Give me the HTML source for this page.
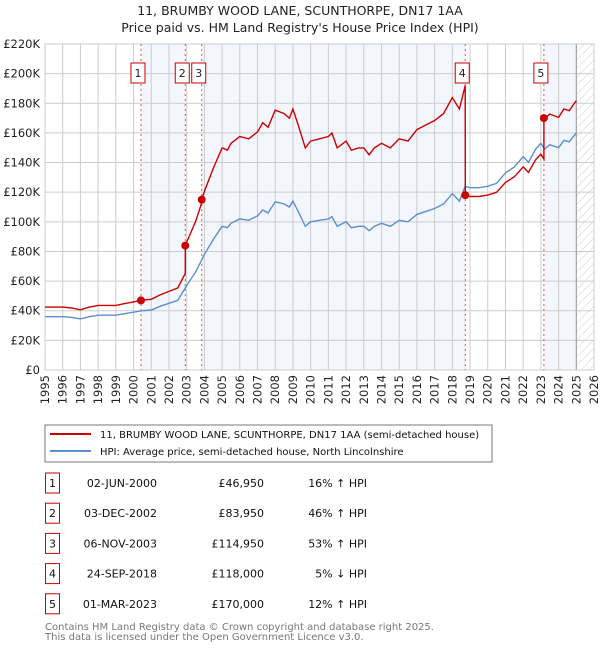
<!DOCTYPE html>
<html><head><meta charset="utf-8"><style>
body{margin:0;background:#fff;font-family:"Liberation Sans","DejaVu Sans",sans-serif;}
svg text{font-family:"DejaVu Sans","Liberation Sans",sans-serif;}
</style></head><body>
<svg id="c" width="600" height="650" viewBox="0 0 600 650" xmlns="http://www.w3.org/2000/svg">
<defs><pattern id="hatch" width="6" height="6" patternUnits="userSpaceOnUse" patternTransform="rotate(45)"><line x1="0" y1="0" x2="0" y2="6" stroke="#ccc" stroke-width="1"/></pattern></defs>
<text x="300" y="15" text-anchor="middle" font-size="12.5" fill="#222">11, BRUMBY WOOD LANE, SCUNTHORPE, DN17 1AA</text>
<text x="300" y="32" text-anchor="middle" font-size="12.5" fill="#222">Price paid vs. HM Land Registry's House Price Index (HPI)</text>
<g id="plot"></g>
<rect x="45" y="425" width="447" height="37" fill="#fff" stroke="#777"/>
<line x1="50" y1="434" x2="91" y2="434" stroke="#cc0000" stroke-width="2"/>
<text x="100" y="438" font-size="10" fill="#111">11, BRUMBY WOOD LANE, SCUNTHORPE, DN17 1AA (semi-detached house)</text>
<line x1="50" y1="451" x2="91" y2="451" stroke="#5b8fd0" stroke-width="2"/>
<text x="100" y="455" font-size="10" fill="#111">HPI: Average price, semi-detached house, North Lincolnshire</text>
<g id="table"></g>
<text x="45" y="630" font-size="10" fill="#777">Contains HM Land Registry data © Crown copyright and database right 2025.</text>
<text x="45" y="640" font-size="10" fill="#777">This data is licensed under the Open Government Licence v3.0.</text>
</svg>
<script>
const hpiYears=[1995,1996,1996.5,1997,1997.5,1998,1999,1999.5,2000,2000.5,2001,2001.5,2002,2002.5,2003,2003.5,2004,2004.5,2005,2005.3,2005.5,2006,2006.5,2007,2007.3,2007.6,2008,2008.5,2008.8,2009.0,2009.3,2009.7,2010,2010.5,2011,2011.2,2011.5,2012,2012.3,2012.7,2013,2013.3,2013.6,2014,2014.5,2015,2015.5,2016,2016.5,2017,2017.5,2018,2018.4,2018.72,2019,2019.5,2020,2020.5,2021,2021.5,2022,2022.3,2022.7,2023,2023.2,2023.5,2024,2024.3,2024.6,2025];
const hpiValues=[36,36,35.5,34.5,36,37,37,38,39,40,40.5,43,45,47,57,66,78,88,97,96,99,102,101,104,108,106,113.5,112,110,114,107,97,100,101,102,103.5,97,100,96,97,97,94,97,99,97,101,100,105,107,109,112,119,114,124,123,123,124,126,133,137,144,140,149,153,149,152,150,155,154,160];
const saleLabels=["1","2","3","4","5"];
const saleDates=[2000.42,2002.92,2003.85,2018.73,2023.17];
const saleDateText=["02-JUN-2000","03-DEC-2002","06-NOV-2003","24-SEP-2018","01-MAR-2023"];
const salePrices=[46950,83950,114950,118000,170000];
const salePriceText=["£46,950","£83,950","£114,950","£118,000","£170,000"];
const saleHpiText=["16% ↑ HPI","46% ↑ HPI","53% ↑ HPI","5% ↓ HPI","12% ↑ HPI"];
const yTicks=[0,20,40,60,80,100,120,140,160,180,200,220];
const xTicks=[1995,1996,1997,1998,1999,2000,2001,2002,2003,2004,2005,2006,2007,2008,2009,2010,2011,2012,2013,2014,2015,2016,2017,2018,2019,2020,2021,2022,2023,2024,2025,2026];

const NS="http://www.w3.org/2000/svg";
const X0=45,X1=594,Y0=370,Y1=44;
const xs=y=>X0+(y-1995)/(2026-1995)*(X1-X0);
const ys=v=>Y0-v/220*(Y0-Y1);
function el(t,a,p){const e=document.createElementNS(NS,t);for(const k in a)e.setAttribute(k,a[k]);p.appendChild(e);return e;}
function hpiAt(t){if(t<=hpiYears[0])return hpiValues[0];for(let i=1;i<hpiYears.length;i++){if(t<=hpiYears[i]){const f=(t-hpiYears[i-1])/(hpiYears[i]-hpiYears[i-1]);return hpiValues[i-1]+f*(hpiValues[i]-hpiValues[i-1]);}}return hpiValues[hpiValues.length-1];}
const plot=document.getElementById('plot');
const endY=2025;
const bands=[[saleDates[0],saleDates[1]],[saleDates[2],saleDates[3]],[saleDates[4],endY]];
bands.forEach(b=>{const r=el('rect',{x:xs(b[0]),y:Y1,width:xs(b[1])-xs(b[0]),height:Y0-Y1,fill:'#f3f6fd'},plot);

});
const h=el('rect',{x:xs(endY),y:Y1,width:X1-xs(endY),height:Y0-Y1,fill:'url(#hatch)'},plot);


yTicks.forEach(v=>{el('line',{x1:X0,x2:X1,y1:ys(v),y2:ys(v),stroke:'#ccc','stroke-width':1},plot);
const t=el('text',{x:40,y:ys(v)+4,'text-anchor':'end','font-size':11.5,fill:'#222'},plot);t.textContent=v===0?'£0':'£'+v+'K';

});
xTicks.forEach(y=>{el('line',{x1:xs(y),x2:xs(y),y1:Y1,y2:Y0,stroke:'#ccc','stroke-width':1},plot);
const t=el('text',{x:0,y:0,'text-anchor':'end','font-size':11.5,fill:'#222',transform:`translate(${xs(y)+4},375) rotate(-90)`},plot);t.textContent=y;

});
el('line',{x1:xs(endY),x2:xs(endY),y1:Y1,y2:Y0,stroke:'#999','stroke-width':1},plot);
el('rect',{x:X0,y:Y1,width:X1-X0,height:Y0-Y1,fill:'none',stroke:'#ccc'},plot);
saleDates.forEach(d=>{const l=el('line',{x1:xs(d),x2:xs(d),y1:Y1,y2:Y0,stroke:'#e05050','stroke-width':1,'stroke-dasharray':'2,3'},plot);

});
let hp='';hpiYears.forEach((y,i)=>{hp+=(i?'L':'M')+xs(y).toFixed(1)+','+ys(hpiValues[i]).toFixed(1);});
const hl=el('path',{d:hp,fill:'none',stroke:'#5b8fd0','stroke-width':1.4},plot);


const ratios=saleDates.map((d,i)=>salePrices[i]/1000/hpiAt(d));
let pts=[];
hpiYears.forEach((y,i)=>{
  let k=0;for(let j=0;j<saleDates.length;j++)if(y>=saleDates[j])k=j;
  pts.push([y,hpiValues[i]*ratios[k]]);
});
saleDates.forEach((d,j)=>{if(j>0)pts.push([d-0.0001,hpiAt(d)*ratios[j-1]]);pts.push([d,salePrices[j]/1000]);});
pts.sort((a,b)=>a[0]-b[0]);
let pp='';pts.forEach((p,i)=>{pp+=(i?'L':'M')+xs(p[0]).toFixed(1)+','+ys(p[1]).toFixed(1);});
const pl=el('path',{d:pp,fill:'none',stroke:'#cc0000','stroke-width':1.4},plot);


saleDates.forEach((d,i)=>{const c=el('circle',{cx:xs(d),cy:ys(salePrices[i]/1000),r:4,fill:'#cc0000'},plot);


const bx=xs(d)-3;const by=63;
const g=el('g',{},plot);


el('rect',{x:bx-7,y:by,width:14,height:20,fill:'#fff',stroke:'#cc0000'},g);
const t=el('text',{x:bx,y:by+14,'text-anchor':'middle','font-size':11,fill:'#222'},g);t.textContent=saleLabels[i];});
const tb=document.getElementById('table');
saleLabels.forEach((s,i)=>{const cy=483+i*30.2;
const g=el('g',{},tb);


el('rect',{x:45.5,y:cy-10,width:14,height:20,fill:'#fff',stroke:'#cc0000'},g);
const a=el('text',{x:52.5,y:cy+4,'text-anchor':'middle','font-size':11,fill:'#111'},g);a.textContent=s;
const b=el('text',{x:157,y:cy+4,'text-anchor':'end','font-size':11,fill:'#111'},g);b.textContent=saleDateText[i];
const c=el('text',{x:264,y:cy+4,'text-anchor':'end','font-size':11,fill:'#111'},g);c.textContent=salePriceText[i];
const e=el('text',{x:367,y:cy+4,'text-anchor':'end','font-size':11,fill:'#111'},g);e.textContent=saleHpiText[i];});
</script>
</body></html>
